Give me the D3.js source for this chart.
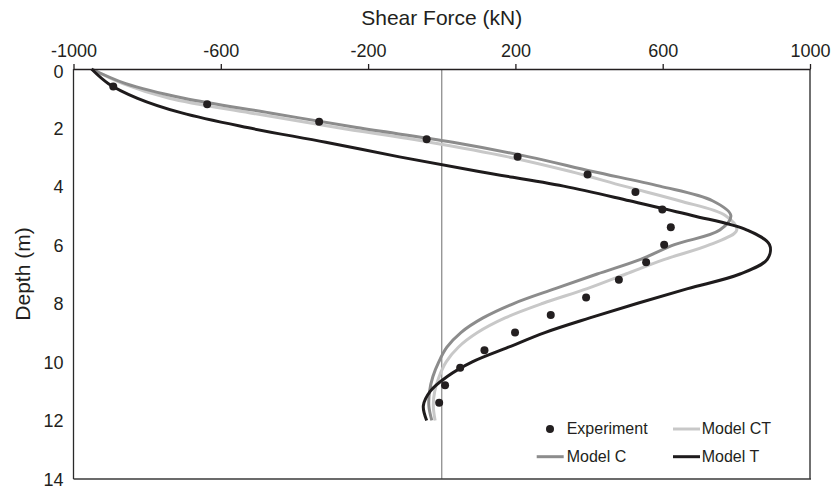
<!DOCTYPE html>
<html>
<head>
<meta charset="utf-8">
<script src="https://cdn.jsdelivr.net/npm/d3@7/dist/d3.min.js"></script>
<style>
  html, body { margin: 0; padding: 0; background: #fff; }
  svg { display: block; font-family: "Liberation Sans", Arial, Helvetica, sans-serif; }
</style>
</head>
<body>
<svg id="chart" width="834" height="490"></svg>
<script>
// Shear force profiles along the pile depth
const xTicks = [-1000, -600, -200, 200, 600, 1000];
const xTickLabels = ["-1000", "-600", "-200", "200", "600", "1000"];
const yTicks = [0, 2, 4, 6, 8, 10, 12, 14];

// Measured points
const expDepth = [0.6, 1.2, 1.8, 2.4, 3.0, 3.6, 4.2, 4.8, 5.4, 6.0, 6.6, 7.2, 7.8, 8.4, 9.0, 9.6, 10.2, 10.8, 11.4];
const expShear = [-892, -637, -333, -41, 206, 396, 526, 599, 622, 604, 555, 481, 392, 296, 199, 116, 50, 9, -7];

// Model predictions, sampled every 0.5 m
const modelDepth = [0, 0.5, 1, 1.5, 2, 2.5, 3, 3.5, 4, 4.5, 5, 5.5, 6, 6.5, 7, 7.5, 8, 8.5, 9, 9.5, 10, 10.5, 11, 11.5, 12];
const modelC  = [-951, -858, -700, -466, -231, 30, 237, 410, 592, 735, 785, 755, 632, 540, 422, 308, 197, 112, 52, 14, -8, -24, -33, -35, -27];
const modelCT = [-951, -866, -740, -520, -285, -33, 180, 350, 495, 645, 770, 801, 728, 605, 500, 395, 275, 172, 97, 45, 12, -7, -19, -23, -18];
const modelT  = [-951, -905, -826, -706, -528, -315, -115, 101, 331, 510, 680, 829, 890, 884, 810, 668, 532, 402, 280, 181, 83, 15, -31, -50, -41];

const series = [
  { name: "Model CT", values: modelCT, color: "#c8c8c8" },
  { name: "Model C",  values: modelC,  color: "#8c8c8c" },
  { name: "Model T",  values: modelT,  color: "#1e1b1c" }
];

const svg = d3.select("#chart");
const plotLeft = 73.5, plotRight = 810, plotTop = 69, plotBottom = 479;

const x = d3.scaleLinear().domain([-1000, 1000]).range([plotLeft, plotRight]);
const y = d3.scaleLinear().domain([0, 14]).range([plotTop, plotBottom]);

const ink = "#231f20";

// zero line
svg.append("line")
  .attr("x1", x(0)).attr("x2", x(0))
  .attr("y1", plotTop).attr("y2", plotBottom)
  .attr("stroke", "#858585").attr("stroke-width", 1.2);

// model curves
const line = d3.line()
  .x(d => x(d[1]))
  .y(d => y(d[0]))
  .curve(d3.curveCatmullRom.alpha(0.5));

series.forEach(s => {
  svg.append("path")
    .datum(modelDepth.map((d, i) => [d, s.values[i]]))
    .attr("fill", "none")
    .attr("stroke", s.color)
    .attr("stroke-width", 3)
    .attr("stroke-linejoin", "round")
    .attr("d", line);
});

// experiment dots
svg.append("g").selectAll("circle")
  .data(expDepth.map((d, i) => [d, expShear[i]]))
  .join("circle")
  .attr("cx", d => x(d[1]))
  .attr("cy", d => y(d[0]))
  .attr("r", 4)
  .attr("fill", ink);

// frame
svg.append("line").attr("x1", plotRight).attr("x2", plotRight).attr("y1", plotTop).attr("y2", plotBottom)
  .attr("stroke", "#707070").attr("stroke-width", 2);
svg.append("line").attr("x1", plotLeft).attr("x2", plotRight + 1).attr("y1", plotBottom).attr("y2", plotBottom)
  .attr("stroke", "#3a3a3a").attr("stroke-width", 1.5);
svg.append("line").attr("x1", plotLeft).attr("x2", plotLeft).attr("y1", plotTop).attr("y2", plotBottom)
  .attr("stroke", "#2a2a2a").attr("stroke-width", 1.3);

// top axis
const xAxis = svg.append("g")
  .attr("transform", `translate(0,${plotTop})`)
  .call(d3.axisTop(x).tickValues(xTicks).tickSize(5).tickSizeOuter(0).tickPadding(7.4)
    .tickFormat((d, i) => xTickLabels[i]));
xAxis.select(".domain").attr("stroke", ink).attr("stroke-width", 1.3);
xAxis.selectAll(".tick line").attr("stroke", ink).attr("stroke-width", 1.3);
xAxis.selectAll("text").attr("fill", ink).attr("font-size", 18);

// left axis labels
const yAxis = svg.append("g")
  .attr("transform", `translate(${plotLeft},0)`)
  .call(d3.axisLeft(y).tickValues(yTicks).tickSize(0).tickPadding(10));
yAxis.select(".domain").remove();
yAxis.selectAll("text").attr("fill", ink).attr("font-size", 18)
  .attr("dy", d => d === 0 ? "0.46em" : "0.36em");

// axis titles
svg.append("text")
  .attr("x", (plotLeft + plotRight) / 2).attr("y", 25)
  .attr("text-anchor", "middle")
  .attr("font-size", 21).attr("fill", ink)
  .text("Shear Force (kN)");

svg.append("text")
  .attr("transform", `translate(30,${(plotTop + plotBottom) / 2}) rotate(-90)`)
  .attr("text-anchor", "middle")
  .attr("font-size", 21).attr("fill", ink)
  .text("Depth (m)");

// legend
const legend = svg.append("g").attr("font-size", 16).attr("fill", ink);
legend.append("circle").attr("cx", 550).attr("cy", 429).attr("r", 4).attr("fill", ink);
legend.append("text").attr("x", 566.7).attr("y", 434).text("Experiment");

const legendItems = [
  { s: series[0], lx: 673, ly: 429, tx: 701.7, ty: 434 },
  { s: series[1], lx: 536.7, ly: 456.7, tx: 566.7, ty: 462 },
  { s: series[2], lx: 673, ly: 456.7, tx: 701.7, ty: 462 }
];
legendItems.forEach(it => {
  legend.append("line")
    .attr("x1", it.lx).attr("x2", it.lx + 27)
    .attr("y1", it.ly).attr("y2", it.ly)
    .attr("stroke", it.s.color).attr("stroke-width", 3);
  legend.append("text").attr("x", it.tx).attr("y", it.ty).text(it.s.name);
});
</script>
</body>
</html>
